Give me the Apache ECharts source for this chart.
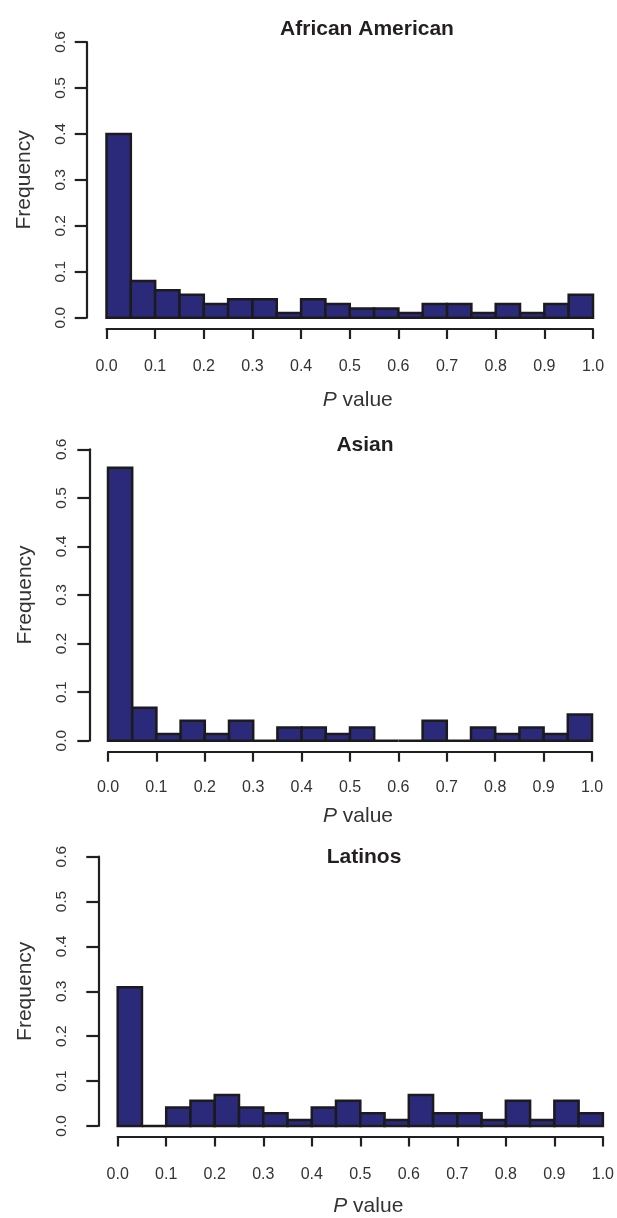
<!DOCTYPE html>
<html>
<head>
<meta charset="utf-8">
<script src="https://cdn.jsdelivr.net/npm/echarts@6/dist/echarts.min.js"></script>
<style>
html,body{margin:0;padding:0;background:#fff;}
#chart{width:617px;height:1218px;}
</style>
</head>
<body>
<div id="chart"></div>
<script>
// ---- data ----
var binEdges = [0, 0.05, 0.1, 0.15, 0.2, 0.25, 0.3, 0.35, 0.4, 0.45, 0.5, 0.55, 0.6, 0.65, 0.7, 0.75, 0.8, 0.85, 0.9, 0.95, 1.0];
var xTickLabels = ['0.0','0.1','0.2','0.3','0.4','0.5','0.6','0.7','0.8','0.9','1.0'];
var yTickLabels = ['0.0','0.1','0.2','0.3','0.4','0.5','0.6'];
var panelTitles = ['African American', 'Asian', 'Latinos'];
var africanAmerican = [0.40, 0.08, 0.06, 0.05, 0.03, 0.04, 0.04, 0.01, 0.04, 0.03, 0.02, 0.02, 0.01, 0.03, 0.03, 0.01, 0.03, 0.01, 0.03, 0.05];
var asian = [0.562, 0.068, 0.014, 0.041, 0.014, 0.041, 0, 0.027, 0.027, 0.014, 0.027, 0, 0, 0.041, 0, 0.027, 0.014, 0.027, 0.014, 0.054];
var latinos = [0.309, 0, 0.041, 0.056, 0.069, 0.041, 0.028, 0.013, 0.041, 0.056, 0.028, 0.013, 0.069, 0.028, 0.028, 0.013, 0.056, 0.013, 0.056, 0.028];
var seriesValues = [africanAmerican, asian, latinos];

// ---- layout ----
var FONT = '"Liberation Sans", Arial, Helvetica, sans-serif';
var AXIS = '#231f20';
var BAR = '#2b2a7a';
var TXT = '#333333';
var layout = [
  {left:106.5, right:593, top:42,    bottom:317.7,  yOff:19.8, xOff:11.3, xLab:30, pGap:61,   yLab:17.5, fGap:51.5, tx:362, ty:24},
  {left:108,   right:592, top:449.3, bottom:740.7,  yOff:18.7, xOff:11,   xLab:28, pGap:54,   yLab:20,   fGap:54,   tx:360, ty:440},
  {left:117.7, right:607, top:856.7, bottom:1132.7, yOff:19.4, xOff:10.6, xLab:30, pGap:59.5, yLab:29,   fGap:63,   tx:359, ty:852}
];

var grids = [], xAxes = [], yAxes = [], series = [], titles = [];
layout.forEach(function (L, i) {
  grids.push({left:L.left, top:L.top, width:L.right - L.left, height:L.bottom - L.top, containLabel:false});
  xAxes.push({
    type:'value', gridIndex:i, min:0, max:1, interval:0.1, offset:L.xOff,
    axisLine:{show:true, onZero:false, lineStyle:{color:AXIS, width:2.2}},
    axisTick:{show:true, length:10, lineStyle:{color:AXIS, width:2.2}},
    splitLine:{show:false},
    axisLabel:{margin:L.xLab, color:TXT, fontSize:16, fontFamily:FONT,
      formatter:function (v) { return xTickLabels[Math.round(v * 10)]; }},
    name:'{i|P} value', nameLocation:'middle', nameGap:L.pGap,
    nameTextStyle:{fontSize:21, color:TXT, fontFamily:FONT, padding:[0,0,0,16],
      rich:{i:{fontStyle:'italic', fontSize:21, color:TXT, fontFamily:FONT}}}
  });
  yAxes.push({
    type:'value', gridIndex:i, min:0, max:0.6, interval:0.1, offset:L.yOff,
    axisLine:{show:true, onZero:false, lineStyle:{color:AXIS, width:2.2}},
    axisTick:{show:true, length:12, lineStyle:{color:AXIS, width:2.2}},
    splitLine:{show:false},
    axisLabel:{rotate:90, margin:L.yLab, color:TXT, fontSize:15.5, fontFamily:FONT,
      formatter:function (v) { return yTickLabels[Math.round(v * 10)]; }},
    name:'Frequency', nameLocation:'middle', nameRotate:90, nameGap:L.fGap,
    nameTextStyle:{fontSize:21, color:TXT, fontFamily:FONT}
  });
  var data = seriesValues[i].map(function (v, k) { return [binEdges[k], binEdges[k + 1], v]; });
  series.push({
    type:'custom', xAxisIndex:i, yAxisIndex:i, data:data, clip:false,
    renderItem:function (params, api) {
      var p0 = api.coord([api.value(0), api.value(2)]);
      var p1 = api.coord([api.value(1), 0]);
      return {type:'rect', shape:{x:p0[0], y:p0[1], width:p1[0] - p0[0], height:p1[1] - p0[1]},
        style:{fill:BAR, stroke:'#1c1a1c', lineWidth:2.5}};
    }
  });
  titles.push({text:panelTitles[i], left:L.tx, top:L.ty, textAlign:'center', textVerticalAlign:'middle',
    textStyle:{fontSize:21, fontWeight:'bold', color:'#231f20', fontFamily:FONT}});
});

var chart = echarts.init(document.getElementById('chart'), null, {renderer:'canvas'});
chart.setOption({
  animation:false,
  backgroundColor:'#ffffff',
  title:titles,
  grid:grids,
  xAxis:xAxes,
  yAxis:yAxes,
  series:series
});
</script>
</body>
</html>
